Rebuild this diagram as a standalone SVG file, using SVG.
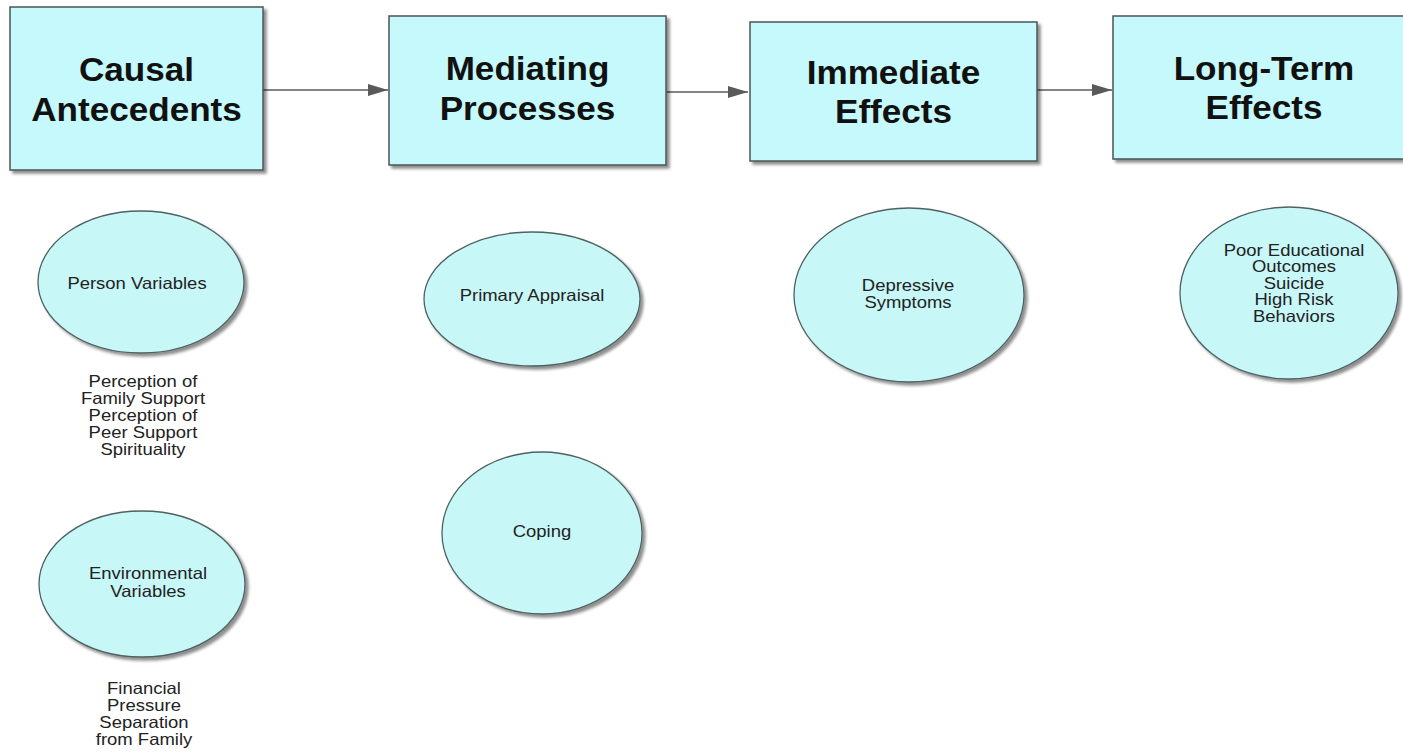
<svg xmlns="http://www.w3.org/2000/svg" width="1403" height="754" viewBox="0 0 1403 754">
<defs>
<filter id="sh" x="-10%" y="-10%" width="130%" height="130%">
<feGaussianBlur in="SourceAlpha" stdDeviation="1.5"/>
<feOffset dx="3" dy="3" result="o"/>
<feComponentTransfer><feFuncA type="linear" slope="0.45"/></feComponentTransfer>
<feMerge><feMergeNode/><feMergeNode in="SourceGraphic"/></feMerge>
</filter>
<marker id="ah" markerWidth="20" markerHeight="12" refX="20" refY="6" orient="auto" markerUnits="userSpaceOnUse">
<path d="M0,0 L20,6 L0,12 Z" fill="#5a5a5a"/>
</marker>
</defs>
<style>
.box{fill:#c6f9fb;stroke:#4a5656;stroke-width:1.5;filter:url(#sh)}
.ell{fill:#c8f7f7;stroke:#4e6262;stroke-width:1.3;filter:url(#sh)}
.title{font-family:"Liberation Sans",Arial,sans-serif;font-weight:bold;font-size:32.5px;fill:#111;text-anchor:middle}
.lbl{font-family:"Liberation Sans",Arial,sans-serif;font-size:16.5px;fill:#222;text-anchor:middle}
.conn{stroke:#5a5a5a;stroke-width:1.5;fill:none;marker-end:url(#ah)}
</style>
<rect width="1403" height="754" fill="#ffffff"/>
<g id="connectors">
<line class="conn" x1="263" y1="90" x2="388" y2="90"/>
<line class="conn" x1="667" y1="92" x2="748" y2="92"/>
<line class="conn" x1="1037" y1="90" x2="1112" y2="90"/>
</g>
<g id="causal-antecedents">
<rect class="box" x="10" y="7" width="253" height="163"/>
<g transform="translate(136.5 0) scale(1.08 1)">
<text class="title" x="0" y="81">Causal</text>
<text class="title" x="0" y="121">Antecedents</text>
</g>
</g>
<g id="mediating-processes">
<rect class="box" x="389" y="16" width="277" height="149"/>
<g transform="translate(527.5 0) scale(1.08 1)">
<text class="title" x="0" y="80">Mediating</text>
<text class="title" x="0" y="120">Processes</text>
</g>
</g>
<g id="immediate-effects">
<rect class="box" x="750" y="22" width="287" height="139"/>
<g transform="translate(893.5 0) scale(1.08 1)">
<text class="title" x="0" y="84">Immediate</text>
<text class="title" x="0" y="123">Effects</text>
</g>
</g>
<g id="long-term-effects">
<rect class="box" x="1113" y="16" width="302" height="143"/>
<g transform="translate(1264 0) scale(1.08 1)">
<text class="title" x="0" y="80">Long-Term</text>
<text class="title" x="0" y="119">Effects</text>
</g>
</g>
<g id="person-variables">
<ellipse class="ell" cx="141" cy="282" rx="103" ry="71"/>
<g transform="translate(137 0) scale(1.12 1)">
<text class="lbl" x="0" y="289">Person Variables</text>
</g>
</g>
<g id="person-variables-list" transform="translate(143 0) scale(1.12 1)">
<text class="lbl" x="0" y="387">Perception of</text>
<text class="lbl" x="0" y="404">Family Support</text>
<text class="lbl" x="0" y="421">Perception of</text>
<text class="lbl" x="0" y="438">Peer Support</text>
<text class="lbl" x="0" y="455">Spirituality</text>
</g>
<g id="environmental-variables">
<ellipse class="ell" cx="142" cy="584" rx="103" ry="73"/>
<g transform="translate(148 0) scale(1.12 1)">
<text class="lbl" x="0" y="579">Environmental</text>
<text class="lbl" x="0" y="597">Variables</text>
</g>
</g>
<g id="environmental-variables-list" transform="translate(144 0) scale(1.12 1)">
<text class="lbl" x="0" y="694">Financial</text>
<text class="lbl" x="0" y="711">Pressure</text>
<text class="lbl" x="0" y="728">Separation</text>
<text class="lbl" x="0" y="745">from Family</text>
</g>
<g id="primary-appraisal">
<ellipse class="ell" cx="532" cy="299" rx="108" ry="67"/>
<g transform="translate(532 0) scale(1.12 1)">
<text class="lbl" x="0" y="301">Primary Appraisal</text>
</g>
</g>
<g id="coping">
<ellipse class="ell" cx="542" cy="533" rx="100" ry="81"/>
<g transform="translate(542 0) scale(1.12 1)">
<text class="lbl" x="0" y="537">Coping</text>
</g>
</g>
<g id="depressive-symptoms">
<ellipse class="ell" cx="909" cy="295" rx="115" ry="87"/>
<g transform="translate(908 0) scale(1.12 1)">
<text class="lbl" x="0" y="291">Depressive</text>
<text class="lbl" x="0" y="308">Symptoms</text>
</g>
</g>
<g id="long-term-outcomes">
<ellipse class="ell" cx="1289" cy="293" rx="109" ry="86"/>
<g transform="translate(1294 0) scale(1.12 1)">
<text class="lbl" x="0" y="256">Poor Educational</text>
<text class="lbl" x="0" y="272.5">Outcomes</text>
<text class="lbl" x="0" y="289">Suicide</text>
<text class="lbl" x="0" y="305.5">High Risk</text>
<text class="lbl" x="0" y="322">Behaviors</text>
</g>
</g>
</svg>
